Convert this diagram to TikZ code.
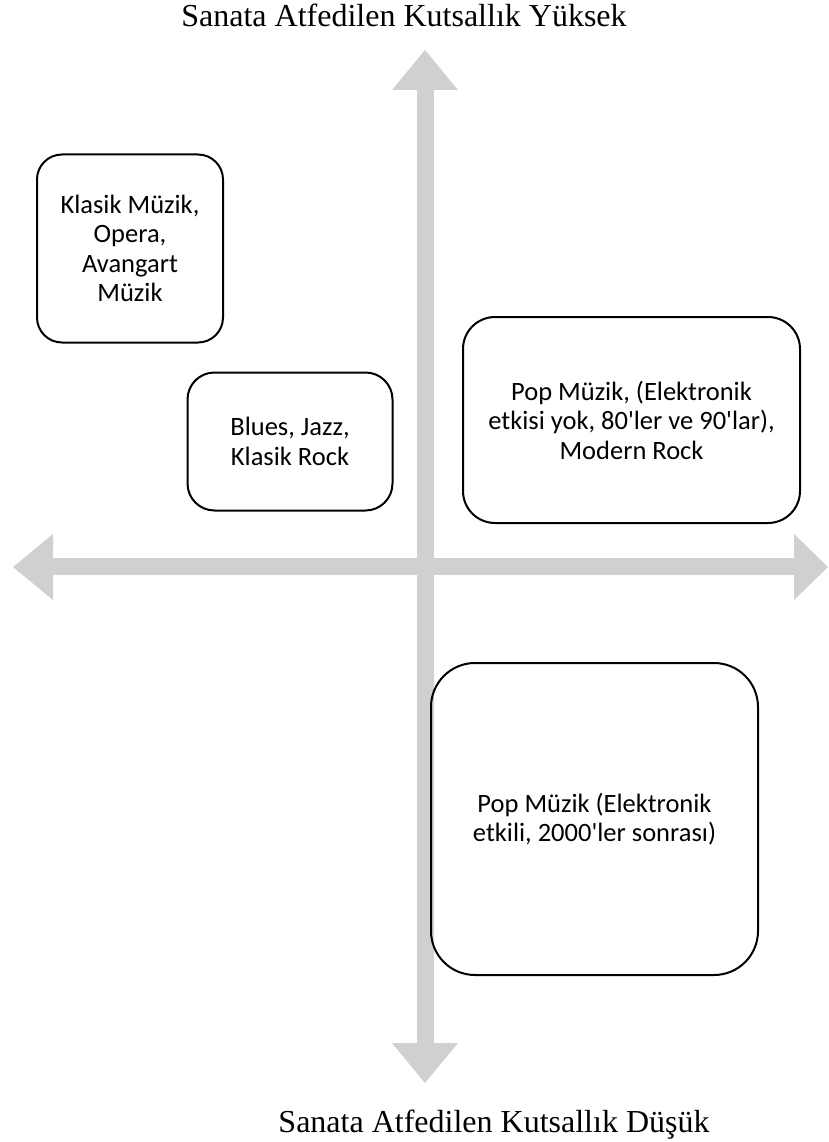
\documentclass[tikz,border=0pt]{standalone}
\usepackage{fontspec}
\setmainfont{Liberation Serif}
\newfontfamily\boxfont{Carlito}
\definecolor{axisgray}{RGB}{208,208,208}
\tikzset{
  axisshape/.style={fill=axisgray, draw=none},
  quadbox/.style={draw=black, line width=2pt, align=center, inner sep=0pt,
    font=\boxfont\fontsize{26.5}{29.5}\selectfont, text=black},
  axistitle/.style={font=\fontsize{32}{36}\selectfont, text=black, inner sep=0pt, anchor=base}
}
\begin{document}
\begin{tikzpicture}[x=1pt,y=-1pt]
\useasboundingbox (0,0) rectangle (829,1142);
% vertical axis
\fill[axisshape] (416.5,90) rectangle (433.5,1043);
\fill[axisshape] (425,50) -- (458,90) -- (392,90) -- cycle;
\fill[axisshape] (425,1083) -- (458,1043) -- (392,1043) -- cycle;
% horizontal axis
\fill[axisshape] (53,558) rectangle (794,575);
\fill[axisshape] (13,567) -- (53,534) -- (53,600) -- cycle;
\fill[axisshape] (828,567) -- (794,534) -- (794,600) -- cycle;
% titles
\node[axistitle] (top) at (404,27) {Sanata Atfedilen Kutsallık Yüksek};
\node[axistitle] (bottom) at (494,1132) {Sanata Atfedilen Kutsallık Düşük};
% boxes
\node[quadbox, rounded corners=25pt, minimum width=186pt, minimum height=188pt] (klasik) at (130,248.5)
  {Klasik Müzik,\\Opera,\\Avangart\\Müzik};
\node[quadbox, rounded corners=27pt, minimum width=205pt, minimum height=138pt] (blues) at (290,441.5)
  {Blues, Jazz,\\Klasik Rock};
\node[quadbox, rounded corners=32pt, minimum width=337pt, minimum height=206pt] (pop1) at (631.5,420)
  {Pop Müzik, (Elektronik\\etkisi yok, 80'ler ve 90'lar),\\Modern Rock};
\node[quadbox, rounded corners=44pt, minimum width=327pt, minimum height=312pt] (pop2) at (594.5,819)
  {Pop Müzik (Elektronik\\etkili, 2000'ler sonrası)};
\end{tikzpicture}
\end{document}
